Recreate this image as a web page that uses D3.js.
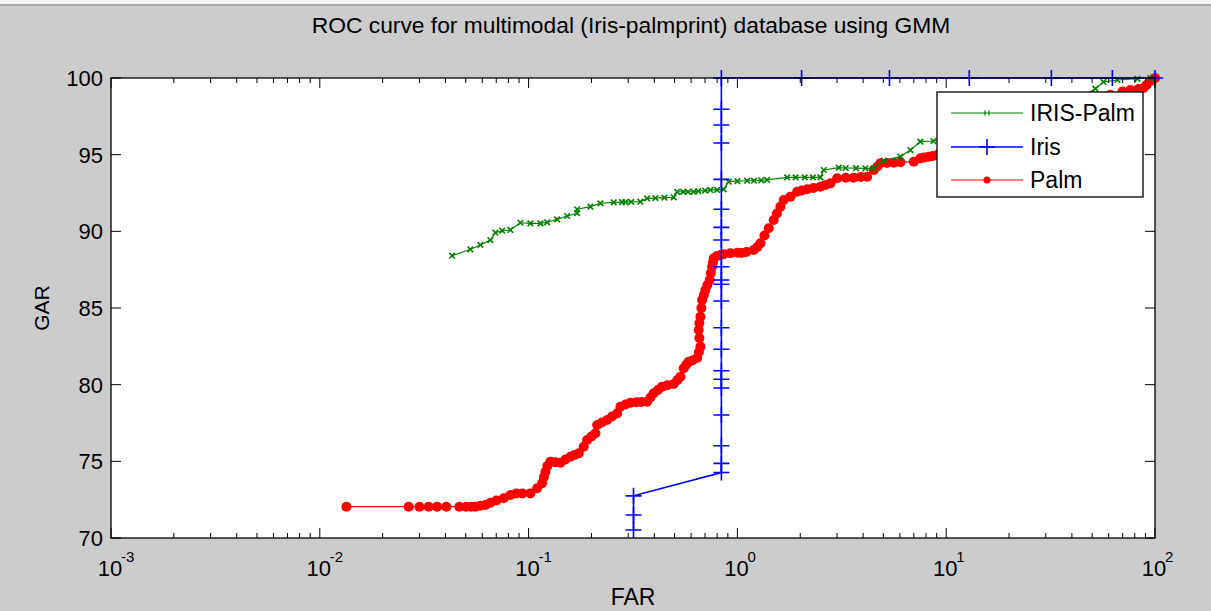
<!DOCTYPE html>
<html><head><meta charset="utf-8">
<script src="https://cdn.jsdelivr.net/npm/d3@7"></script>
<style>body{margin:0;background:#cccccc;} svg{display:block}</style>
</head><body><svg id="c" width="1211" height="611"></svg>
<script>
const chartTitle = "ROC curve for multimodal (Iris-palmprint) database using GMM";
const xLabel = "FAR", yLabel = "GAR";
const seriesNames = ["IRIS-Palm", "Iris", "Palm"];
const xTickExps = [-3, -2, -1, 0, 1, 2];
const yTicks = [70, 75, 80, 85, 90, 95, 100];

const irisPalmFAR = [0.0430,0.0526,0.0588,0.0656,0.0693,0.0747,0.0818,0.0913,0.102,0.1139,0.1227,0.1369,0.1529,0.1707,0.1707,0.1977,0.2207,0.2556,0.28,0.2908,0.31,0.343,0.3694,0.4047,0.4470,0.4952,0.5142,0.55,0.58,0.6176,0.65,0.70,0.7425,0.7992,0.860,0.9086,1.0,1.113,1.2,1.3,1.387,1.730,1.9,2.1,2.3,2.497,2.590,3.056,3.3,3.7,4.1,4.496,5.02,6.035,6.74,7.52,8.68,16.3,28.3,46.4,51.8,56.6,66.1,82.4,95.0];
const irisPalmGAR = [88.41,88.83,89.11,89.43,89.91,90.04,90.09,90.56,90.52,90.52,90.59,90.78,91.0,91.18,91.44,91.61,91.83,91.89,91.91,91.91,91.92,91.93,92.15,92.17,92.20,92.22,92.58,92.58,92.58,92.58,92.62,92.66,92.70,92.70,92.74,93.24,93.27,93.30,93.30,93.33,93.35,93.52,93.52,93.52,93.52,93.52,94.0,94.15,94.13,94.12,94.11,94.11,94.61,94.87,95.30,95.85,95.89,96.74,97.78,98.9,99.30,99.74,99.87,99.95,100];

const irisFAR = [0.318,0.318,0.318,0.838,0.838,0.838,0.838,0.838,0.838,0.838,0.838,0.838,0.838,0.838,0.838,0.838,0.838,0.838,0.838,0.838,0.838,0.838,0.838,0.838,2.03,5.35,12.9,31.9,62.5,100];
const irisGAR = [70.52,71.5,72.75,74.27,74.87,76.02,78.02,79.78,80.35,80.91,82.31,83.71,85.46,86.55,86.83,87.69,89.43,90.26,91.44,93.39,95.76,96.93,97.96,100,100,100,100,100,100,100];

const palmFAR = [0.01341,0.02665,0.02999,0.03322,0.03646,0.04039,0.04662,0.05021,0.05304,0.05562,0.05877,0.06209,0.06561,0.0701,0.076,0.0818,0.0874,0.0934,0.102,0.1098,0.116,0.1184,0.1204,0.123,0.1272,0.1344,0.142,0.1501,0.1586,0.1657,0.1738,0.1836,0.1906,0.1999,0.2089,0.2129,0.2244,0.2377,0.2506,0.2654,0.2753,0.2908,0.3074,0.3283,0.3469,0.3694,0.3832,0.3973,0.4162,0.4359,0.4622,0.4953,0.5160,0.5333,0.5532,0.5697,0.5844,0.6088,0.6412,0.6540,0.665,0.6577,0.6527,0.6577,0.665,0.6723,0.6775,0.6912,0.7027,0.7183,0.7368,0.7464,0.7565,0.7631,0.7700,0.7994,0.8383,0.86,0.9257,1.0,1.045,1.104,1.197,1.247,1.289,1.347,1.412,1.492,1.546,1.607,1.666,1.794,1.932,2.036,2.157,2.312,2.497,2.639,2.789,3.003,3.3,3.6,3.9,4.18,4.496,4.684,4.84,5.20,5.607,6.035,6.99,7.52,7.865,8.25,8.64,9.05,14.58,25.3,43.9,61.1,69.8,76.2,83.3,88.0,91.0,95.1,98.2,100];
const palmGAR = [72.04,72.04,72.04,72.04,72.04,72.04,72.04,72.04,72.04,72.04,72.10,72.15,72.30,72.45,72.59,72.80,72.90,72.91,72.91,73.24,73.57,73.98,74.32,74.70,74.98,74.94,74.91,75.12,75.30,75.41,75.52,75.95,76.39,76.62,76.83,77.37,77.53,77.69,77.92,78.13,78.56,78.71,78.82,78.86,78.87,78.89,79.16,79.44,79.65,79.87,79.96,80.04,80.30,80.52,81.07,81.31,81.50,81.58,81.74,82.13,82.48,83.04,83.57,84.02,84.43,85.0,85.52,85.85,86.17,86.50,86.83,87.28,87.69,87.97,88.24,88.39,88.49,88.5,88.57,88.6,88.59,88.65,88.78,88.98,89.22,89.73,90.20,90.74,91.16,91.61,92.04,92.26,92.58,92.66,92.74,92.83,92.91,93.02,93.13,93.46,93.5,93.5,93.55,93.56,94.00,94.23,94.44,94.46,94.48,94.50,94.54,94.76,94.82,94.87,94.91,94.98,95.30,96.28,97.8,98.9,99.12,99.22,99.28,99.35,99.54,99.80,99.93,100];

const colors = {green: "#008000", blue: "#0000ff", red: "#ff0000"};
const FONT = "'Liberation Sans', Arial, Helvetica, sans-serif";

const svg = d3.select("#c");
const x = d3.scaleLog().domain([1e-3, 1e2]).range([111, 1155]);
const y = d3.scaleLinear().domain([70, 100]).range([538, 78]);

// figure background
svg.append("rect").attr("width", 1211).attr("height", 611).attr("fill", "#cccccc");
svg.append("rect").attr("width", 1211).attr("height", 4).attr("fill", "#f4f4f4");
svg.append("rect").attr("y", 4).attr("width", 1211).attr("height", 2).attr("fill", "#a8a8a8");

// plot area
svg.append("rect").attr("x", x(1e-3)).attr("y", y(100))
  .attr("width", x(1e2) - x(1e-3)).attr("height", y(70) - y(100)).attr("fill", "#fff");

const zip = (a, b) => a.map((v, i) => [v, b[i]]);
const line = d3.line().x(d => x(d[0])).y(d => y(d[1]));

function series(data, color, lw) {
  const g = svg.append("g");
  g.append("path").attr("d", line(data)).attr("fill", "none").attr("stroke", color).attr("stroke-width", lw);
  return g;
}

// Palm (red)
const palm = zip(palmFAR, palmGAR);
const gPalm = series(palm, colors.red, 1.2);
gPalm.selectAll("circle").data(palm).join("circle")
  .attr("cx", d => x(d[0])).attr("cy", d => y(d[1])).attr("r", 5).attr("fill", colors.red);

// IRIS-Palm (green)
const ip = zip(irisPalmFAR, irisPalmGAR);
const gIP = series(ip, colors.green, 1.2);
const xm = 2.8;
gIP.selectAll("path.m").data(ip).join("path").attr("class", "m")
  .attr("d", d => { const px = x(d[0]), py = y(d[1]);
    return `M${px-xm},${py-xm}L${px+xm},${py+xm}M${px-xm},${py+xm}L${px+xm},${py-xm}`; })
  .attr("stroke", colors.green).attr("stroke-width", 1.6).attr("fill", "none");

// Iris (blue)
const iris = zip(irisFAR, irisGAR);
const gIris = series(iris, colors.blue, 1.6);
const pm = 8;
gIris.selectAll("path.m").data(iris).join("path").attr("class", "m")
  .attr("d", d => { const px = x(d[0]), py = y(d[1]);
    return `M${px-pm},${py}H${px+pm}M${px},${py-pm}V${py+pm}`; })
  .attr("stroke", colors.blue).attr("stroke-width", 1.6).attr("fill", "none");

// axes box and ticks (MATLAB-style, inward, both sides)
const ax = svg.append("g").attr("stroke", "#000").attr("stroke-width", 1).attr("fill", "none");
const L = x(1e-3), R = x(1e2), T = y(100), B = y(70);
ax.append("rect").attr("x", L).attr("y", T).attr("width", R - L).attr("height", B - T).attr("stroke-width", 1.3);
const majorLen = 10, minorLen = 5;
xTickExps.forEach(e => {
  const px = x(Math.pow(10, e));
  ax.append("line").attr("x1", px).attr("x2", px).attr("y1", B).attr("y2", B - majorLen);
  ax.append("line").attr("x1", px).attr("x2", px).attr("y1", T).attr("y2", T + majorLen);
  if (e < 2) {
    for (let k = 2; k <= 9; k++) {
      const mx = x(k * Math.pow(10, e));
      ax.append("line").attr("x1", mx).attr("x2", mx).attr("y1", B).attr("y2", B - minorLen);
      ax.append("line").attr("x1", mx).attr("x2", mx).attr("y1", T).attr("y2", T + minorLen);
    }
  }
});
yTicks.forEach(v => {
  const py = y(v);
  ax.append("line").attr("x1", L).attr("x2", L + majorLen).attr("y1", py).attr("y2", py);
  ax.append("line").attr("x1", R).attr("x2", R - majorLen).attr("y1", py).attr("y2", py);
});

// tick labels
const tl = svg.append("g").attr("font-family", FONT).attr("fill", "#000");
yTicks.forEach(v => {
  tl.append("text").attr("x", L - 8).attr("y", y(v) + 8).attr("text-anchor", "end")
    .attr("font-size", 22).text(v);
});
xTickExps.forEach(e => {
  const px = x(Math.pow(10, e));
  tl.append("text").attr("x", px - 1).attr("y", 576).attr("text-anchor", "middle").attr("font-size", 22).text("10");
  tl.append("text").attr("x", px + 10).attr("y", 562).attr("text-anchor", "start").attr("font-size", 15).text(String(e));
});

// title & axis labels
svg.append("text").attr("x", (L + R) / 2 - 2).attr("y", 33).attr("text-anchor", "middle")
  .attr("font-family", FONT).attr("font-size", 22.8).text(chartTitle);
svg.append("text").attr("x", (L + R) / 2).attr("y", 605).attr("text-anchor", "middle")
  .attr("font-family", FONT).attr("font-size", 23).text(xLabel);
svg.append("text").attr("transform", `translate(49,${y(85)}) rotate(-90)`).attr("text-anchor", "middle")
  .attr("font-family", FONT).attr("font-size", 21).text(yLabel);

// legend
const lg = svg.append("g");
lg.append("rect").attr("x", 937).attr("y", 92).attr("width", 206).attr("height", 105)
  .attr("fill", "#fff").attr("stroke", "#000").attr("stroke-width", 1.3);
const rows = [113, 147, 180];
const lcol = [colors.green, colors.blue, colors.red];
seriesNames.forEach((n, i) => {
  const ry = rows[i];
  lg.append("line").attr("x1", 951).attr("x2", 1023).attr("y1", ry).attr("y2", ry)
    .attr("stroke", lcol[i]).attr("stroke-width", i === 1 ? 1.6 : 1.2);
  if (i === 0) {
    lg.append("path").attr("d", `M${987-2},${ry-2.5}V${ry+2.5}M${987+2},${ry-2.5}V${ry+2.5}`)
      .attr("stroke", lcol[i]).attr("stroke-width", 1.3);
  } else if (i === 1) {
    lg.append("path").attr("d", `M${987-8},${ry}H${987+8}M987,${ry-8}V${ry+8}`)
      .attr("stroke", lcol[i]).attr("stroke-width", 1.6);
  } else {
    lg.append("circle").attr("cx", 987).attr("cy", ry).attr("r", 3.5).attr("fill", lcol[i]);
  }
  lg.append("text").attr("x", 1030).attr("y", ry + 8).attr("font-family", FONT)
    .attr("font-size", 23).attr("fill", "#000").text(n);
});
</script></body></html>
